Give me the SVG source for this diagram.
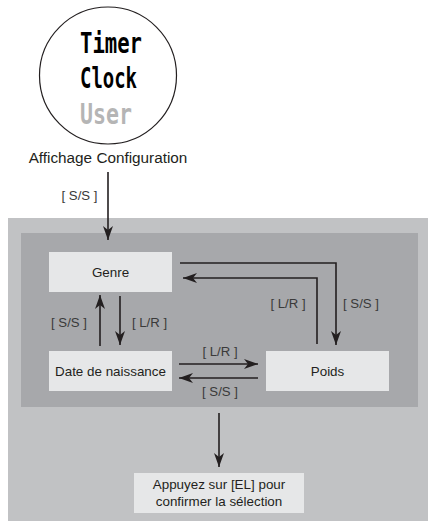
<svg xmlns="http://www.w3.org/2000/svg" width="428" height="521" viewBox="0 0 428 521">
  <style>
    .box { fill: #e6e7e8; }
    .t { font-family: "Liberation Sans", Arial, sans-serif; font-size: 13.4px; fill: #231f20; text-anchor: middle; }
    .lbl { font-family: "Liberation Sans", Arial, sans-serif; font-size: 13.2px; fill: #3a3a3a; text-anchor: middle; }
    .pix { font-family: "DejaVu Sans Mono", monospace; font-weight: bold; font-size: 29px; }
    .conn { fill: none; stroke: #231f20; stroke-width: 1.6; marker-end: url(#ah); }
  </style>
  <defs>
    <marker id="ah" markerUnits="userSpaceOnUse" markerWidth="14" markerHeight="10" refX="14" refY="5" orient="auto" overflow="visible">
      <path d="M0,0 L14,5 L0,10 L4,5 z" fill="#231f20"/>
    </marker>
  </defs>

  <rect x="0" y="0" width="428" height="521" fill="#ffffff"/>

  <g id="display">
    <circle cx="108" cy="75.5" r="68.5" fill="#ffffff" stroke="#231f20" stroke-width="1.2"/>
    <text class="pix" x="80" y="53" textLength="62" lengthAdjust="spacingAndGlyphs" fill="#000000">Timer</text>
    <text class="pix" x="80" y="88" textLength="57" lengthAdjust="spacingAndGlyphs" fill="#000000">Clock</text>
    <text class="pix" x="80" y="124" textLength="52" lengthAdjust="spacingAndGlyphs" fill="#b5b5b5">User</text>
    <text x="108" y="163" font-family="Liberation Sans, Arial, sans-serif" font-size="15.3" fill="#231f20" text-anchor="middle">Affichage Configuration</text>
  </g>

  <g id="panel">
    <rect x="8" y="218" width="420" height="303" fill="#c1c2c4"/>
    <rect x="21" y="233" width="397" height="174" fill="#a7a8ab"/>
  </g>

  <g id="genre">
    <rect class="box" x="49" y="252" width="123" height="40"/>
    <text class="t" x="110.5" y="277">Genre</text>
  </g>
  <g id="date">
    <rect class="box" x="49" y="351" width="123" height="40"/>
    <text class="t" x="110.5" y="376">Date de naissance</text>
  </g>
  <g id="poids">
    <rect class="box" x="266" y="351" width="123" height="40"/>
    <text class="t" x="327.5" y="376">Poids</text>
  </g>
  <g id="confirm">
    <rect class="box" x="134" y="473" width="170" height="40"/>
    <text class="t" x="219" y="489">Appuyez sur [EL] pour</text>
    <text class="t" x="219" y="506">confirmer la sélection</text>
  </g>

  <g id="connectors">
    <path class="conn" d="M108,172 V240"/>
    <path class="conn" d="M180,263 H336 V345"/>
    <path class="conn" d="M317,344 V278 H183"/>
    <path class="conn" d="M100,346 V295"/>
    <path class="conn" d="M120,296 V345"/>
    <path class="conn" d="M179,364 H258"/>
    <path class="conn" d="M258,378 H179"/>
    <path class="conn" d="M219,413 V467"/>
    <text class="lbl" x="79.5" y="200">[ S/S ]</text>
    <text class="lbl" x="69" y="327">[ S/S ]</text>
    <text class="lbl" x="149.5" y="327">[ L/R ]</text>
    <text class="lbl" x="288" y="308">[ L/R ]</text>
    <text class="lbl" x="361" y="308">[ S/S ]</text>
    <text class="lbl" x="220" y="356">[ L/R ]</text>
    <text class="lbl" x="220" y="396">[ S/S ]</text>
  </g>
</svg>
